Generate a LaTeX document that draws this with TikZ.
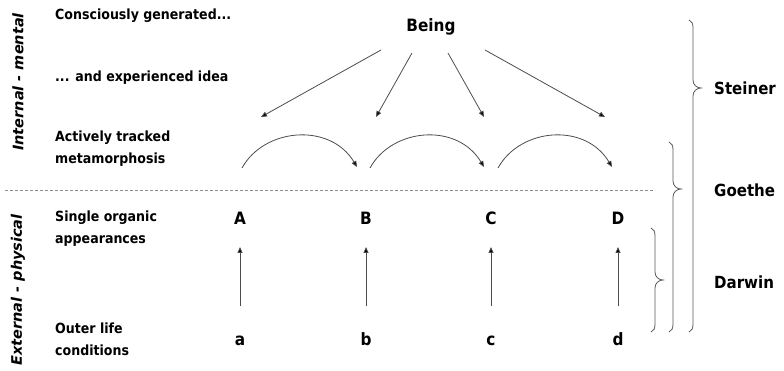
\documentclass[tikz,border=0pt]{standalone}
\usepackage{fontspec}
\setmainfont{DejaVu Sans}[FakeStretch=0.9]
\newfontfamily\sidefont{DejaVu Sans}
\usetikzlibrary{arrows.meta}
\newcommand{\drawcurly}[4]{% x spine, top, tip, bottom
  \draw[bracestyle] (#1-4,#2) .. controls (#1-1,#2+1) and (#1,#2+4) .. (#1,#2+8)
    -- (#1,#3-8) .. controls (#1,#3-3) and (#1+4,#3) .. (#1+8,#3)
    .. controls (#1+4,#3) and (#1,#3+3) .. (#1,#3+8)
    -- (#1,#4-8) .. controls (#1,#4-4) and (#1-1,#4-1) .. (#1-4,#4);}
\begin{document}
\begin{tikzpicture}[x=1pt,y=-1pt,
  lbl/.style={font=\fontsize{14}{22}\selectfont\bfseries, inner sep=0pt, align=left, anchor=west},
  side/.style={font=\sidefont\fontsize{14.5}{21}\selectfont\bfseries\itshape, inner sep=0pt, rotate=90},
  authorlbl/.style={font=\fontsize{16.7}{20}\selectfont\bfseries, inner sep=0pt, anchor=west},
  big/.style={font=\fontsize{17}{20}\selectfont\bfseries, inner sep=0pt},
  letter/.style={big, anchor=base},
  arr/.style={draw=black!70, line width=0.8pt, -{Triangle[length=6pt,width=5pt,fill=black]}},
  bracestyle/.style={draw=black!65, line width=0.8pt},
]
\useasboundingbox (0,0) rectangle (784,371);
% left labels
\node[lbl] (l1) at (55,16) {Consciously generated...};
\node[lbl] (l2) at (55,78) {... and experienced idea};
\node[lbl] (l3) at (55,149) {Actively tracked\\metamorphosis};
\node[lbl] (l4) at (55,229) {Single organic\\appearances};
\node[lbl] (l5) at (55,339) {Outer life\\conditions};
\node[side] (im) at (18,82) {Internal - mental};
\node[side] (ep) at (18,290) {External - physical};
% dashed separator
\coordinate (d0) at (5,190);
\coordinate (d1) at (655,190);
\draw[black!45, line width=0.8pt, dash pattern=on 3pt off 2pt] (d0) -- (d1);
% Being
\node[big] (being) at (431,27) {Being};
\coordinate (s1) at (381,50); \coordinate (t1) at (261,117);
\coordinate (s2) at (412,53); \coordinate (t2) at (376,117);
\coordinate (s3) at (448,53); \coordinate (t3) at (484,117);
\coordinate (s4) at (485,50); \coordinate (t4) at (605,117);
\draw[arr] (s1) -- (t1);
\draw[arr] (s2) -- (t2);
\draw[arr] (s3) -- (t3);
\draw[arr] (s4) -- (t4);
% curved arrows
\coordinate (c1a) at (242,168); \coordinate (c1b) at (357,167);
\coordinate (c2a) at (370,168); \coordinate (c2b) at (484,167);
\coordinate (c3a) at (498,168); \coordinate (c3b) at (612,167);
\draw[arr] (c1a) .. controls (264,128) and (330,122) .. (c1b);
\draw[arr] (c2a) .. controls (392,128) and (457,122) .. (c2b);
\draw[arr] (c3a) .. controls (520,128) and (585,122) .. (c3b);
% letters
\node[letter] (A) at (240,225) {A};
\node[letter] (B) at (366,225) {B};
\node[letter] (C) at (491,225) {C};
\node[letter] (D) at (618,225) {D};
\node[letter] (a) at (240,345) {a};
\node[letter] (b) at (366,345) {b};
\node[letter] (c) at (491,345) {c};
\node[letter] (d) at (618,345) {d};
\draw[arr] ([yshift=39pt]a.base) -- ([yshift=-22pt]A.base);
\draw[arr] ([yshift=39pt]b.base) -- ([yshift=-22pt]B.base);
\draw[arr] ([yshift=39pt]c.base) -- ([yshift=-22pt]C.base);
\draw[arr] ([yshift=39pt]d.base) -- ([yshift=-22pt]D.base);
% braces
\drawcurly{693}{20}{88}{332}
\drawcurly{673}{142}{189}{332}
\drawcurly{655}{228}{280}{332}
\node[authorlbl] (steiner) at (714,88) {Steiner};
\node[authorlbl] (goethe) at (714,190) {Goethe};
\node[authorlbl] (darwin) at (714,282) {Darwin};
\end{tikzpicture}
\end{document}
